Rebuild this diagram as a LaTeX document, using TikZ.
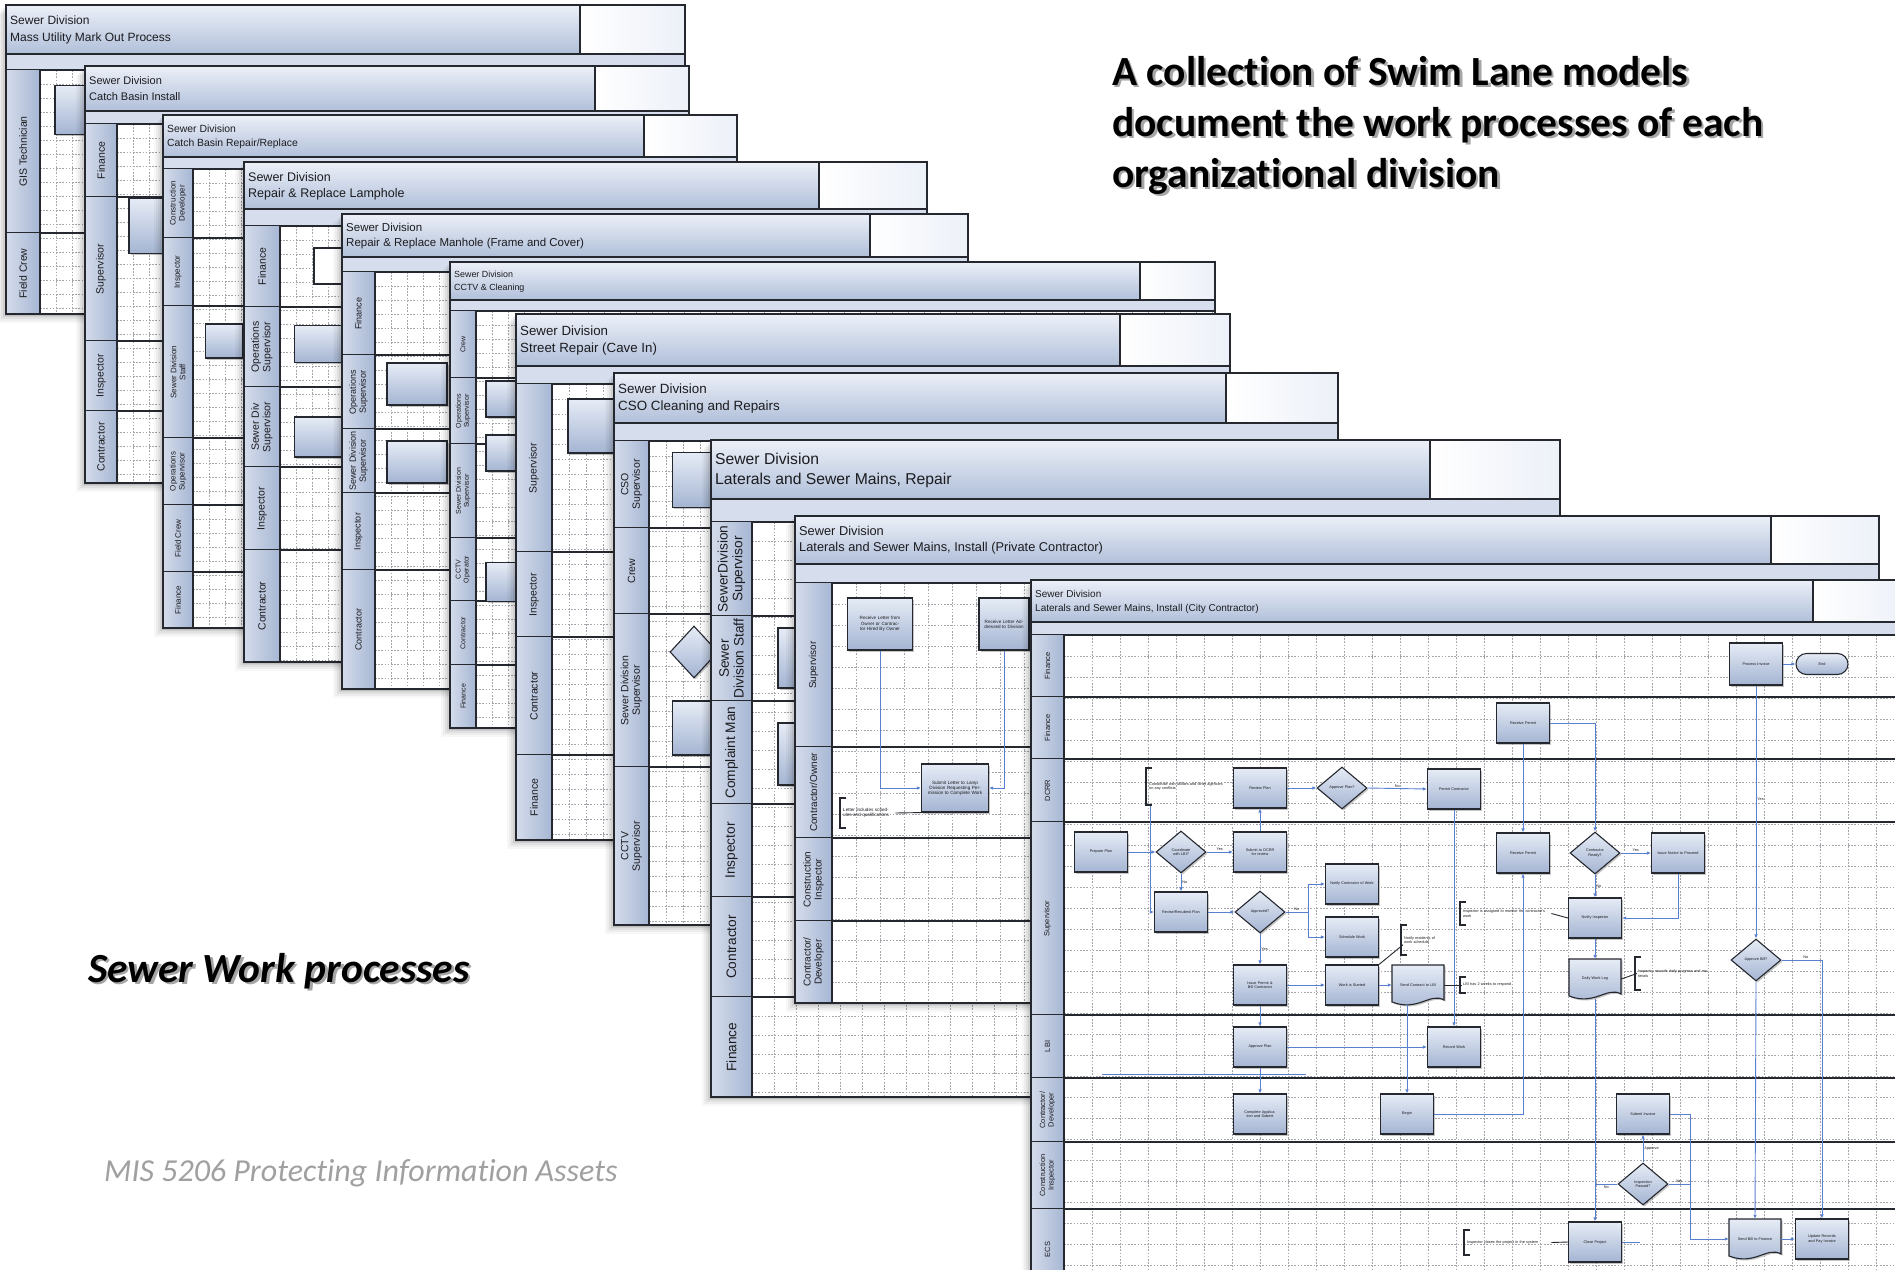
\documentclass[tikz,border=0pt]{standalone}
\usepackage{fontspec}
\setmainfont{Carlito}[Ligatures=NoCommon]
\newfontfamily\diagfont{Liberation Sans}
\usetikzlibrary{shapes.geometric,shapes.misc,arrows.meta,shadows}

\definecolor{edge}{RGB}{38,40,48}
\definecolor{hdrT}{RGB}{236,240,248}
\definecolor{hdrB}{RGB}{176,191,217}
\definecolor{laneL}{RGB}{212,220,235}
\definecolor{laneR}{RGB}{166,182,211}
\definecolor{subbar}{RGB}{214,222,237}
\definecolor{gridc}{RGB}{165,165,172}
\definecolor{flowc}{RGB}{88,128,208}
\definecolor{boxT}{RGB}{230,236,246}
\definecolor{boxB}{RGB}{164,180,210}
\definecolor{footc}{RGB}{160,160,160}
\definecolor{txt}{RGB}{28,28,32}

\tikzset{
  gridline/.style={gridc,line width=0.45pt,dash pattern=on 1.6pt off 1.6pt},
  hdrtxt/.style={anchor=west,inner sep=0,text=txt},
  lanelab/.style={rotate=90,font=\lanefont,align=center,text=txt,inner sep=0},
  pbox/.style={rectangle,draw=edge,line width=1.1pt,top color=boxT,bottom color=boxB,
    minimum width=53,minimum height=40,inner sep=1,align=center,text width=46,
    font=\boxfont,text=txt,drop shadow={shadow xshift=1.6pt,shadow yshift=-1.6pt,opacity=.45}},
  pdia/.style={diamond,draw=edge,line width=1.1pt,top color=boxT,bottom color=boxB,
    minimum width=50,minimum height=42,inner sep=0,align=center,text width=30,
    font=\boxfont,text=txt,drop shadow={shadow xshift=1.6pt,shadow yshift=-1.6pt,opacity=.45}},
  pterm/.style={rounded rectangle,draw=edge,line width=1.1pt,top color=boxT,bottom color=boxB,
    minimum width=54,minimum height=21,inner sep=1,font=\boxfont,text=txt},
  doctext/.style={minimum width=52,minimum height=40,inner sep=1,align=center,text width=44,
    font=\boxfont,text=txt},
  annot/.style={anchor=west,inner sep=1,align=left,font=\boxfont,text=txt},
  flow/.style={draw=flowc,line width=0.9pt,-{Latex[length=4pt,width=3.5pt]}},
  plain/.style={draw=flowc,line width=0.9pt},
  notelink/.style={draw=edge,line width=0.9pt},
  flowlab/.style={font=\boxfont,inner sep=1,text=txt},
  slide/.style={anchor=base west,inner sep=0,font=\fontsize{41.5}{50}\selectfont\bfseries},
}
\newcommand\lanefont{\diagfont\fontsize{9}{10}\selectfont}
\newcommand\boxfont{\diagfont\fontsize{3.8}{4.3}\selectfont}
\newcommand\gdx{16}
\newcommand\gdy{14}
\newcommand\setgrid[2]{\renewcommand\gdx{#1}\renewcommand\gdy{#2}}

% one swim lane sheet: L T R B, header bottom, sub-bar bottom, label column right, white box left
\newcommand\swimsheet[8]{%
  \foreach \s/\o in {9/0.03,7/0.04,5/0.05,3/0.07,1.5/0.08}{\fill[black,opacity=\o] (#1-\s,#2+\s) rectangle (#3-\s,#4+\s);}
  \fill[white] (#1,#2) rectangle (#3,#4);
  \pgfmathtruncatemacro\nx{(#3-#7)/\gdx}
  \pgfmathtruncatemacro\ny{(#4-#6)/\gdy}
  \foreach \i in {1,...,\nx}{\draw[gridline] ({#7+\i*\gdx},#6) -- ({#7+\i*\gdx},#4);}
  \foreach \j in {1,...,\ny}{\draw[gridline] (#7,{#6+\j*\gdy}) -- (#3,{#6+\j*\gdy});}
  \shade[top color=hdrT,bottom color=hdrB] (#1,#2) rectangle (#8,#5);
  \shade[left color=white,right color=hdrT] (#8,#2) rectangle (#3,#5);
  \fill[subbar] (#1,#5) rectangle (#3,#6);
  \draw[edge,line width=1.5pt] (#1,#5) -- (#3,#5) (#1,#6) -- (#3,#6) (#8,#2) -- (#8,#5);
}
% lanes: name, L, label column right, R, list top/bottom/label
\newcommand\swimlanes[5]{%
  \foreach \ya/\yb/\lab [count=\k] in {#5}{%
    \shade[left color=laneL,right color=laneR] (#2,\ya) rectangle (#3,\yb);
    \node[lanelab] (#1-lane\k) at ({(#2+#3)/2},{(\ya+\yb)/2}) {\lab};
    \draw[edge,line width=1.5pt] (#2,\yb) -- (#4,\yb);
  }%
}
% outer frame and label column rule: L T R B, label column right, sub-bar bottom
\newcommand\sheetedge[6]{%
  \draw[edge,line width=1.5pt] (#5,#6) -- (#5,#4);
  \draw[edge,line width=1.7pt] (#1,#2) rectangle (#3,#4);
}
% header text: name, L, T, header bottom, size, second line
\newcommand\sheettitle[6]{%
  \node[hdrtxt,font={\diagfont\fontsize{#5}{#5}\selectfont}] (#1-t1) at (#2+4,{#3+0.32*(#4-#3)}) {Sewer Division};
  \node[hdrtxt,font={\diagfont\fontsize{#5}{#5}\selectfont}] (#1-t2) at (#2+4,{#3+0.68*(#4-#3)}) {#6};
}
% document shape: name, x, y, text
\newcommand\docshape[4]{%
  \shade[top color=boxT,bottom color=boxB,draw=edge,line width=1.1pt,
    drop shadow={shadow xshift=1.6pt,shadow yshift=-1.6pt,opacity=.45}]
    (#2-26,#3-20) -- (#2+26,#3-20) -- (#2+26,#3+15)
    .. controls (#2+12,#3+7) and (#2,#3+27) .. (#2-26,#3+17) -- cycle;
  \node[doctext] (#1) at (#2,#3) {#4};
}
% annotation bracket: name, x1, y1, x2, y2, text
\newcommand\annot[6]{%
  \draw[edge,line width=1.1pt] (#2+6,#3) -- (#2,#3) -- (#2,#5) -- (#2+6,#5);
  \pgfmathsetmacro\aw{#4-#2-5}
  \node[annot,text width=\aw pt] (#1) at (#2+2,{(#3+#5)/2}) {#6};
}

\begin{document}
\begin{tikzpicture}[x=1pt,y=-1pt]
\useasboundingbox (0,0) rectangle (1895,1269);
\clip (0,0) rectangle (1895,1269);
\fill[white] (0,0) rectangle (1895,1269);

% ---------- sheet 1
\setgrid{16}{14}
\renewcommand\lanefont{\diagfont\fontsize{10.5}{11.5}\selectfont}
\swimsheet{6}{5}{685}{314}{54}{70}{40}{580}
\sheettitle{s1}{6}{5}{54}{12}{Mass Utility Mark Out Process}
\swimlanes{s1}{6}{40}{685}{70/233/GIS Technician, 233/314/Field Crew}
\sheetedge{6}{5}{685}{314}{40}{70}
\node[pbox,minimum width=30,minimum height=49,text width=24] (s1b1) at (70,110) {};

% ---------- sheet 2
\renewcommand\lanefont{\diagfont\fontsize{10.5}{11.5}\selectfont}
\swimsheet{85}{66}{689}{483}{111}{124}{117}{595}
\sheettitle{s2}{85}{66}{111}{11}{Catch Basin Install}
\swimlanes{s2}{85}{117}{689}{124/197/Finance, 197/341/Supervisor, 341/411/Inspector, 411/483/Contractor}
\sheetedge{85}{66}{689}{483}{117}{124}
\node[pbox,minimum width=34,minimum height=55,text width=28] (s2b1) at (146,226) {};

% ---------- sheet 3
\renewcommand\lanefont{\diagfont\fontsize{8}{9}\selectfont}
\swimsheet{163}{115}{737}{628}{157}{169}{193}{644}
\sheettitle{s3}{163}{115}{157}{10.4}{Catch Basin Repair/Replace}
\swimlanes{s3}{163}{193}{737}{169/238/{Construction\\Developer}, 238/306/Inspector, 306/438/{Sewer Division\\Staff}, 438/505/{Operations\\Supervisor}, 505/572/Field Crew, 572/628/Finance}
\sheetedge{163}{115}{737}{628}{193}{169}
\node[pbox,minimum width=37,minimum height=34,text width=30] (s3b1) at (224,341) {};

% ---------- sheet 4
\renewcommand\lanefont{\diagfont\fontsize{10.5}{11.5}\selectfont}
\swimsheet{244}{162}{927}{662}{209}{226}{280}{819}
\sheettitle{s4}{244}{162}{209}{12.5}{Repair \& Replace Lamphole}
\swimlanes{s4}{244}{280}{927}{226/307/Finance, 307/387/{Operations\\Supervisor}, 387/467/{Sewer Div\\Supervisor}, 467/550/Inspector, 550/662/Contractor}
\sheetedge{244}{162}{927}{662}{280}{226}
\node[rectangle,draw=edge,line width=1.2pt,fill=white,minimum width=40,minimum height=36] (s4n1) at (334,266) {};
\node[pbox,minimum width=55,minimum height=37,text width=48] (s4b1) at (322,344) {};
\node[pbox,minimum width=55,minimum height=40,text width=48] (s4b2) at (322,437) {};

% ---------- sheet 5
\renewcommand\lanefont{\diagfont\fontsize{9}{10}\selectfont}
\swimsheet{342}{214}{968}{689}{257}{272}{375}{870}
\sheettitle{s5}{342}{214}{257}{11.5}{Repair \& Replace Manhole (Frame and Cover)}
\swimlanes{s5}{342}{375}{968}{272/355/Finance, 355/429/{Operations\\Supervisor}, 429/493/{Sewer Division\\Supervisor}, 493/570/Inspector, 570/689/Contractor}
\sheetedge{342}{214}{968}{689}{375}{272}
\node[pbox,minimum width=60,minimum height=42,text width=52] (s5b1) at (417,384) {};
\node[pbox,minimum width=60,minimum height=42,text width=52] (s5b2) at (417,462) {};

% ---------- sheet 6
\renewcommand\lanefont{\diagfont\fontsize{7}{8}\selectfont}
\swimsheet{450}{262}{1215}{728}{300}{311}{476}{1140}
\sheettitle{s6}{450}{262}{300}{8.9}{CCTV \& Cleaning}
\swimlanes{s6}{450}{476}{1215}{311/378/Crew, 378/444/{Operations\\Supervisor}, 444/538/{Sewer Division\\Supervisor}, 538/601/{CCTV\\Operator}, 601/665/Contractor, 665/728/Finance}
\sheetedge{450}{262}{1215}{728}{476}{311}
\node[pbox,minimum width=54,minimum height=36,text width=48] (s6b1) at (513,399) {};
\node[pbox,minimum width=54,minimum height=36,text width=48] (s6b2) at (513,453) {};
\node[pbox,minimum width=54,minimum height=39,text width=48] (s6b3) at (513,582) {};

% ---------- sheet 7
\setgrid{17}{15}
\renewcommand\lanefont{\diagfont\fontsize{10.5}{11.5}\selectfont}
\swimsheet{516}{314}{1230}{840}{366}{384}{552}{1120}
\sheettitle{s7}{516}{314}{366}{13.3}{Street Repair (Cave In)}
\swimlanes{s7}{516}{552}{1230}{384/552/Supervisor, 552/637/Inspector, 637/755/Contractor, 755/840/Finance}
\sheetedge{516}{314}{1230}{840}{552}{384}
\node[pbox,minimum width=62,minimum height=54,text width=54] (s7b1) at (599,426) {};

% ---------- sheet 8
\renewcommand\lanefont{\diagfont\fontsize{10.5}{11.5}\selectfont}
\swimsheet{614}{373}{1338}{925}{423}{441}{649}{1226}
\sheettitle{s8}{614}{373}{423}{13.4}{CSO Cleaning and Repairs}
\swimlanes{s8}{614}{649}{1338}{441/528/{CSO\\Supervisor}, 528/614/Crew, 614/767/{Sewer Division\\Supervisor}, 767/925/{CCTV\\Supervisor}}
\sheetedge{614}{373}{1338}{925}{649}{441}
\node[pbox,minimum width=57,minimum height=55,text width=50] (s8b1) at (701,480) {};
\node[pdia,minimum width=48,minimum height=52] (s8d1) at (694,652) {};
\node[pbox,minimum width=57,minimum height=54,text width=50] (s8b2) at (701,728) {};

% ---------- sheet 9
\setgrid{22}{19}
\renewcommand\lanefont{\diagfont\fontsize{13.7}{14.7}\selectfont}
\swimsheet{711}{440}{1560}{1097}{499}{522}{752}{1430}
\sheettitle{s9}{711}{440}{499}{15.7}{Laterals and Sewer Mains, Repair}
\swimlanes{s9}{711}{752}{1560}{522/616/{SewerDivision\\Supervisor}, 616/701/{Sewer\\Division Staff}, 701/804/Complaint Man, 804/897/Inspector, 897/997/Contractor, 997/1097/Finance}
\sheetedge{711}{440}{1560}{1097}{752}{522}
\node[pbox,minimum width=44,minimum height=60,text width=34] (s9b1) at (800,658) {};
\node[pbox,minimum width=44,minimum height=62,text width=34] (s9b2) at (800,754) {};

% ---------- sheet 10
\setgrid{24}{21}
\renewcommand\lanefont{\diagfont\fontsize{10}{11}\selectfont}
\renewcommand\boxfont{\diagfont\fontsize{4.6}{5.2}\selectfont}
\swimsheet{795}{516}{1879}{1003}{564}{583}{832}{1771}
\sheettitle{s10}{795}{516}{564}{12.8}{Laterals and Sewer Mains, Install (Private Contractor)}
\swimlanes{s10}{795}{832}{1879}{583/747/Supervisor, 747/838/{Contractor/Owner}, 838/921/{Construction\\Inspector}, 921/1003/{Contractor/\\Developer}}
\sheetedge{795}{516}{1879}{1003}{832}{583}
\node[pbox,minimum width=65,minimum height=52,text width=58] (ra) at (880,624) {Receive Letter from Owner or Contractor Hired By Owner};
\node[pbox,minimum width=50,minimum height=52,text width=44] (rb) at (1004,624) {Receive Letter Addressed to Division};
\node[pbox,minimum width=67,minimum height=48,text width=60] (sl) at (955,788) {Submit Letter to Lamp Division Requesting Permission to Complete Work};
\annot{sa}{840}{798}{896}{828}{Letter includes schedules and qualifications}
\draw[flow] (ra.south) |- (sl.west);
\draw[flow] (rb.south) |- (sl.east);
\draw[notelink] (sa.east) -- (sl.south west);

% ---------- sheet 11
\setgrid{28}{21}
\renewcommand\lanefont{\diagfont\fontsize{7.5}{8.5}\selectfont}
\renewcommand\boxfont{\diagfont\fontsize{3.8}{4.3}\selectfont}
\swimsheet{1031}{580}{1910}{1290}{622}{635}{1064}{1813}
\sheettitle{s11}{1031}{580}{622}{10}{Laterals and Sewer Mains, Install (City Contractor)}
\swimlanes{s11}{1031}{1064}{1910}{635/697/Finance, 697/759/Finance, 759/822/DCRR, 822/1015/Supervisor, 1015/1078/LBI, 1078/1142/{Contractor/\\Developer}, 1142/1209/{Construction\\Inspector}, 1209/1290/ECS}
\sheetedge{1031}{580}{1910}{1290}{1064}{635}

\node[pbox,minimum height=42] (F1) at (1756,664) {Process Invoice};
\node[pterm] (END) at (1822,664) {End};
\node[pbox] (P2) at (1523,723) {Receive Permit};
\annot{A1}{1146}{768}{1229}{805}{Coordinate with utilities and other agencies on any conflicts}
\node[pbox] (RV) at (1260,788) {Review Plan};
\node[pdia] (AP) at (1342,788) {Approve Plan?};
\node[pbox] (PC) at (1454,789) {Permit Contractor};
\node[pbox] (PP) at (1101,852) {Prepare Plan};
\node[pdia] (D1) at (1181,852) {Coordinate with LBI?};
\node[pbox] (SB1) at (1260,852) {Submit to DCRR for review};
\node[pbox] (RP) at (1523,853) {Receive Permit};
\node[pdia] (D2) at (1595,853) {Contractor Ready?};
\node[pbox] (IS) at (1678,853) {Issue Notice to Proceed};
\node[pbox] (RS) at (1181,912) {Revise/Resubmit Plan};
\node[pdia] (D3) at (1260,912) {Approved?};
\node[pbox] (B5) at (1352,884) {Notify Contractor of Work};
\node[pbox] (B6) at (1352,937) {Schedule Work};
\annot{A2}{1401}{925}{1446}{955}{Notify residents of work schedule}
\annot{A3}{1460}{902}{1552}{925}{Inspector is assigned to monitor the contractor's work}
\node[pbox] (NI) at (1595,918) {Notify Inspector};
\node[pbox] (B7) at (1260,985) {Issue Permit \& Bill Contractor};
\node[pbox] (B8) at (1352,985) {Work is Started};
\docshape{DOC1}{1418}{985}{Send Contract to LBI}
\annot{A4}{1460}{977}{1538}{993}{LBI has 2 weeks to respond}
\docshape{DOC2}{1595}{979}{Daily Work Log}
\annot{A5}{1635}{957}{1712}{990}{Inspector records daily progress and materials}
\node[pdia] (D4) at (1756,960) {Approve Bill?};
\node[pbox] (AP2) at (1260,1047) {Approve Plan};
\node[pbox] (B9) at (1454,1047) {Record Work};
\node[pbox] (CP) at (1260,1114) {Complete Application and Submit};
\node[pbox] (BG) at (1407,1114) {Begin};
\node[pbox] (SI) at (1643,1114) {Submit Invoice};
\node[pdia] (D5) at (1643,1184) {Inspection Passed?};
\annot{A6}{1464}{1230}{1552}{1255}{Inspector closes the project in the system}
\node[pbox] (B10) at (1595,1242) {Close Project};
\docshape{DOC3}{1755}{1239}{Send Bill to Finance}
\node[pbox] (B11) at (1822,1239) {Update Records and Pay Invoice};

\coordinate (a1) at (1150,806);
\coordinate (j1) at (1308,912);
\coordinate (j2) at (1690,1114);
\coordinate (j3) at (1640,1242);
\coordinate (k1) at (1102,1074);
\coordinate (k2) at (1306,1074);

\draw[flow] (PP.east) -- (D1.west);
\draw[flow] (D1.east) -- node[flowlab,above] (l1) {Yes} (SB1.west);
\draw[flow] (D1.south) -- node[flowlab,right] (l2) {No} (RS.north);
\draw[flow] (SB1.north) -- (RV.south);
\draw[flow] (RV.east) -- (AP.west);
\draw[flow] (AP.east) -- node[flowlab,above] (l3) {No} (PC.west);
\draw[flow] (PC.south) -- (B9.north);
\draw[flow] (a1) |- (RS.west);
\draw[flow] (RS.east) -- (D3.west);
\draw[plain] (D3.east) -- node[flowlab,above] (l4) {No} (j1);
\draw[flow] (j1) |- (B5.west);
\draw[flow] (j1) |- (B6.west);
\draw[flow] (D3.south) -- node[flowlab,right] (l5) {Yes} (B7.north);
\draw[flow] (B7.south) -- (AP2.north);
\draw[flow] (AP2.south) -- (CP.north);
\draw[flow] (B7.east) -- (B8.west);
\draw[flow] (B8.east) -- (DOC1.west);
\draw[flow] (DOC1.south -| BG.north) -- (BG.north);
\draw[flow] (BG.east) -| (RP.south);
\draw[flow] (P2.south) -- (RP.north);
\draw[flow] (P2.east) -| (D2.north);
\draw[flow] (D2.east) -- node[flowlab,above] (l6) {Yes} (IS.west);
\draw[flow] (D2.south) -- node[flowlab,right] (l7) {No} (NI.north);
\draw[flow] (IS.south) |- (NI.east);
\draw[flow] (NI.south) -- (DOC2.north);
\draw[flow] (DOC2.south) -- (B10.north);
\draw[plain] (D5.west) -- node[flowlab,below] (l8) {No} (D5.west -| DOC2.south);
\draw[plain] (SI.east) -- (j2);
\draw[flow] (j2) |- (DOC3.west);
\draw[plain] (D5.east) -- node[flowlab,above] (l9) {Yes} (D5.east -| j2);
\draw[flow] (D5.north) -- node[flowlab,right] (l10) {Approve} (SI.south);
\draw[flow] (F1.east) -- (END.west);
\draw[flow] (F1.south) -- node[flowlab,right,pos=0.45] (l11) {Yes} (D4.north);
\draw[flow] (D4.east) -| node[flowlab,above,pos=0.3] (l12) {No} (B11.north);
\draw[flow] (D4.south) -- (DOC3.north);
\draw[flow] (DOC3.east) -- (B11.west);
\draw[plain] (B10.east) -- (j3);
\draw[flow] (AP2.east) -- (B9.west);
\draw[plain] (k1) -- (k2);
\draw[notelink] (A6.east) -- (B10.west);
\draw[notelink] (A2.south west) -- (B8.north east);
\draw[notelink] (A3.east) -- (NI.west);
\draw[notelink] (A4.west) -- (DOC1.east);
\draw[notelink] (A5.west) -- (DOC2.east);

% ---------- slide text
\foreach \n/\yy/\tx in {1/85/{A collection of Swim Lane models},2/136/{document the work processes of each},3/187/{organizational division}}{%
  \node[slide,text=black!35] (hs\n) at (1114.5,\yy+2.5) {\tx};
  \node[slide] (h\n) at (1112,\yy) {\tx};
}
\node[slide,font=\fontsize{41.5}{48}\selectfont\bfseries\itshape,text=black!35] (sws) at (90.5,984.5) {Sewer Work processes};
\node[slide,font=\fontsize{41.5}{48}\selectfont\bfseries\itshape] (sw) at (88,982) {Sewer Work processes};
\node[slide,font=\fontsize{32}{38}\selectfont\mdseries\itshape,text=footc] (foot) at (104,1181) {MIS 5206 Protecting Information Assets};
\end{tikzpicture}
\end{document}
